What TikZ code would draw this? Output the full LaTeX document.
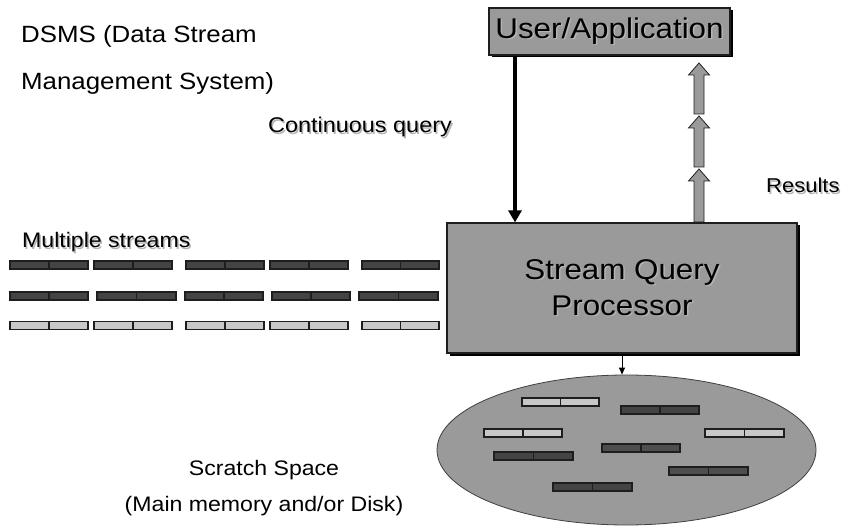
\documentclass[tikz,border=0pt]{standalone}
\usepackage{fontspec}
\setmainfont{Liberation Sans}[FakeStretch=1.1]
\usetikzlibrary{shapes.geometric,arrows.meta,shadows}
\definecolor{boxgray}{HTML}{9A9A9A}
\definecolor{darkblk}{HTML}{444444}
\definecolor{midblk}{HTML}{4E4E4E}
\definecolor{lightblk}{HTML}{C8C8C8}
\definecolor{edge}{HTML}{1E1E1E}
\definecolor{txtshadow}{HTML}{B4B4B4}
\newcommand\shtxt[1]{\rlap{\hspace{1.5pt}\raisebox{-1.5pt}{\textcolor{txtshadow}{#1}}}#1}
\newcommand\pkt[4]{%
  \draw[pktline, fill=#4] (#1,#3-4) rectangle (#2,#3+4);
  \draw[pktline] ({(#1+#2)/2},#3-4) -- ({(#1+#2)/2},#3+4);}
\begin{document}
\begin{tikzpicture}[x=1pt,y=-1pt,
  plainbox/.style={rectangle, draw=edge, line width=1.2pt, fill=boxgray, inner sep=0pt,
    general shadow={fill=black, shadow xshift=2.5pt, shadow yshift=-2.5pt}},
  lbl/.style={inner sep=0pt, anchor=base west},
  pktline/.style={draw=edge, line width=1.2pt},
  resarrow/.style={draw=edge, line width=0.8pt, fill=boxgray},
  cqarrow/.style={line width=4.5pt, -{Triangle[width=13pt,length=12pt]}},
  smallarrow/.style={line width=0.8pt, -{Triangle[width=6pt,length=7pt]}}
]
\useasboundingbox (0,0) rectangle (845,526);

% boxes
\node[plainbox, minimum width=241pt, minimum height=47pt,
      font=\fontsize{28.5}{34}\selectfont] (user) at (609.5,31.5) {\shtxt{User/Application}};
\node[plainbox, minimum width=350pt, minimum height=130pt, align=center,
      font=\fontsize{28.5}{36}\selectfont] (sqp) at (622,288)
      {\shtxt{Stream Query}\\\shtxt{Processor}};

% scratch space ellipse
\node[ellipse, draw=edge!85, line width=0.8pt, fill=boxgray, minimum width=379pt,
      minimum height=150pt, inner sep=0pt] (scratch) at (626.5,450) {};

% continuous query arrow
\coordinate (cq) at (515,0);
\draw[cqarrow] (cq |- user.south) -- (cq |- sqp.north);

% results arrows
\foreach \t/\b in {63/114,116/167,169/222}{
  \draw[resarrow] (694,\b) -- (694,\t+12) -- (688.5,\t+12) -- (699,\t)
     -- (709.5,\t+12) -- (704,\t+12) -- (704,\b) -- cycle;
}

% arrow to scratch space
\draw[smallarrow] (sqp.south) -- (sqp.south |- scratch.north);

% streams
\foreach \a/\b in {10/88,94/172,186/264,270/348,362/439}{\pkt{\a}{\b}{265}{darkblk}}
\foreach \a/\b in {10/88,97/176,185/263,272/350,359/438}{\pkt{\a}{\b}{296}{darkblk}}
\foreach \a/\b in {10/88,94/172,186/264,270/348,362/439}{\pkt{\a}{\b}{325.5}{lightblk}}

% blocks in scratch space
\pkt{522}{599}{402}{lightblk}
\pkt{621}{699}{410}{darkblk}
\pkt{484}{562}{433}{lightblk}
\pkt{705}{784}{433}{lightblk}
\pkt{602}{680}{448}{midblk}
\pkt{494}{573}{456}{darkblk}
\pkt{669}{748}{471}{midblk}
\pkt{553}{632}{487}{darkblk}

% labels
\node[lbl, font=\fontsize{23.5}{28}\selectfont] (dsms1) at (21,43) {DSMS (Data Stream};
\node[lbl, font=\fontsize{23.5}{28}\selectfont] (dsms2) at (21,90) {Management System)};
\node[lbl, font=\fontsize{21.3}{26}\selectfont] (cqlbl) at (268,133) {\shtxt{Continuous query}};
\node[lbl, font=\fontsize{20}{24}\selectfont] (reslbl) at (766,193) {\shtxt{Results}};
\node[lbl, font=\fontsize{21}{26}\selectfont] (mslbl) at (22,248) {\shtxt{Multiple streams}};
\node[inner sep=0pt, anchor=base, font=\fontsize{21}{26}\selectfont] (scr1) at (264,475) {Scratch Space};
\node[inner sep=0pt, anchor=base, font=\fontsize{21}{26}\selectfont] (scr2) at (264,511) {(Main memory and/or Disk)};
\end{tikzpicture}
\end{document}
